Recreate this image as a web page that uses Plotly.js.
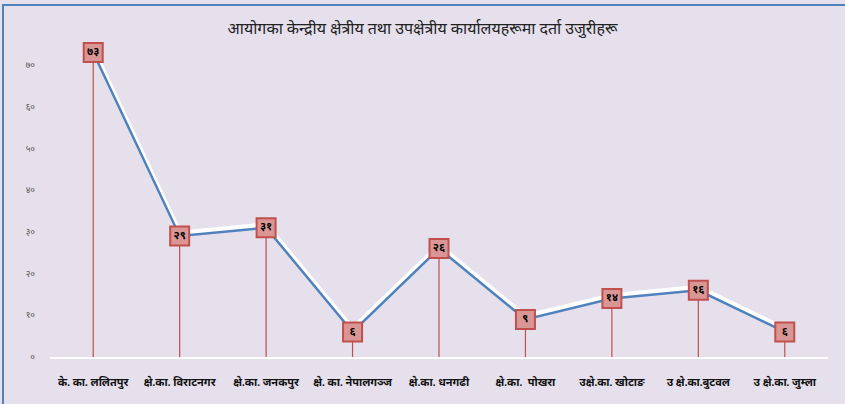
<!DOCTYPE html>
<html>
<head>
<meta charset="utf-8">
<script src="https://cdn.plot.ly/plotly-3.0.1.min.js"></script>
<style>
  html, body { margin: 0; padding: 0; background: #E5E0EC; }
  #chart { width: 845px; height: 404px; }
  #frame { position: absolute; left: 2px; top: 4px; width: 845px; height: 404px;
           border-left: 2px solid #4F81BD; border-top: 2px solid #4F81BD; pointer-events: none; }
</style>
</head>
<body>
<div id="chart"></div>
<div id="frame"></div>
<script>
// office names (x categories)
const offices = [
    'के. का. ललितपुर',
    'क्षे.का. विराटनगर',
    'क्षे.का. जनकपुर',
    'क्षे. का. नेपालगञ्ज',
    'क्षे.का. धनगढी',
    'क्षे.का.  पोखरा',
    'उक्षे.का. खोटाङ',
    'उ क्षे.का.बुटवल',
    'उ क्षे.का. जुम्ला'
];
// registered complaints
const complaints = [73, 29, 31, 6, 26, 9, 14, 16, 6];
// data labels as printed (Devanagari digits)
const labels = ['७३', '२९', '३१', '६', '२६', '९', '१४', '१६', '६'];
// y axis ticks
const tickVals = [0, 10, 20, 30, 40, 50, 60, 70];
const tickText = ['०', '१०', '२०', '३०', '४०', '५०', '६०', '७०'];

const font = '"Liberation Serif", "Noto Sans", serif';

// white shadow under the line, on the base axis shifted a few px up
const shadow = {
    x: offices,
    y: complaints,
    type: 'scatter',
    mode: 'lines',
    line: { color: '#FFFFFF', width: 5 },
    hoverinfo: 'skip'
};

// the series itself, on the overlay axis so it sits above the shadow
const main = {
    x: offices,
    y: complaints,
    yaxis: 'y2',
    type: 'scatter',
    mode: 'lines+markers+text',
    line: { color: '#4F81BD', width: 2.5 },
    marker: {
        symbol: 'square',
        size: 19,
        color: '#DA9694',
        line: { color: '#C0504D', width: 2 }
    },
    text: labels,
    textposition: 'middle center',
    textfont: { family: font, size: 11, color: '#000000', weight: 'bold' },
    error_y: {
        type: 'data',
        symmetric: false,
        array: complaints.map(() => 0),
        arrayminus: complaints,
        color: '#C0504D',
        thickness: 1.2,
        width: 0
    }
};

const layout = {
    width: 845,
    height: 404,
    paper_bgcolor: '#E5E0EC',
    plot_bgcolor: '#E5E0EC',
    margin: { l: 50, r: 17, t: 40, b: 47 },
    showlegend: false,
    font: { family: font, color: '#404040' },
    title: {
        text: 'आयोगका केन्द्रीय क्षेत्रीय तथा उपक्षेत्रीय कार्यालयहरूमा दर्ता उजुरीहरू',
        font: { family: font, size: 16, color: '#222222' },
        x: 0.5,
        xanchor: 'center',
        y: 0.93,
        yanchor: 'middle'
    },
    xaxis: {
        type: 'category',
        range: [-0.5, 8.5],
        showgrid: false,
        zeroline: false,
        showline: true,
        linecolor: '#FFFFFF',
        linewidth: 2,
        ticks: '',
        tickfont: { family: font, size: 11, color: '#111111', weight: 'bold' },
        ticklabelstandoff: 14
    },
    yaxis: {
        range: [-0.7, 75.3],
        visible: false
    },
    yaxis2: {
        overlaying: 'y',
        side: 'left',
        range: [0, 76],
        tickvals: tickVals,
        ticktext: tickText,
        showgrid: false,
        zeroline: false,
        showline: false,
        ticks: '',
        tickfont: { family: font, size: 9, color: '#555555' },
        ticklabelstandoff: 14
    }
};

Plotly.newPlot('chart', [shadow, main], layout, { displayModeBar: false, staticPlot: true });
</script>
</body>
</html>
